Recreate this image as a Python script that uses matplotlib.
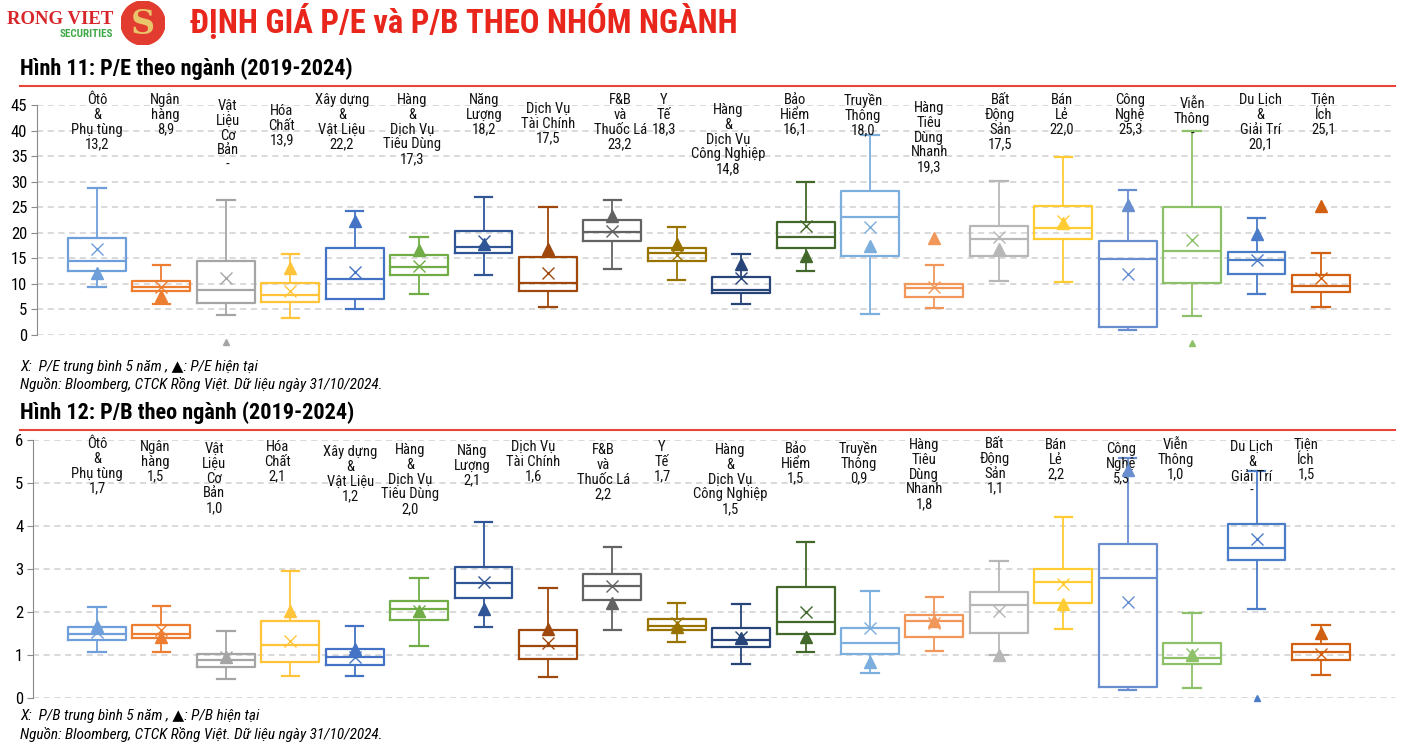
import numpy as np
import matplotlib
matplotlib.use("Agg")
import matplotlib.pyplot as plt
from matplotlib.transforms import blended_transform_factory
from matplotlib.patches import Circle

plt.rcParams['font.family'] = ['Roboto Condensed', 'Archivo Narrow', 'DejaVu Sans']

# Sector names (label text above each box)
sectors = ["Ôtô\n&\nPhụ tùng", "Ngân\nhàng", "Vật\nLiệu\nCơ\nBản", "Hóa\nChất",
           "Xây dựng\n&\nVật Liệu", "Hàng\n&\nDịch Vụ\nTiêu Dùng", "Năng\nLượng",
           "Dịch Vụ\nTài Chính", "F&B\nvà\nThuốc Lá", "Y\nTế",
           "Hàng\n&\nDịch Vụ\nCông Nghiệp", "Bảo\nHiểm", "Truyền\nThông",
           "Hàng\nTiêu\nDùng\nNhanh", "Bất\nĐộng\nSản", "Bán\nLẻ", "Công\nNghệ",
           "Viễn\nThông", "Du Lịch\n&\nGiải Trí", "Tiện\nÍch"]

colors = ['#6F9FDB', '#ED7D31', '#A5A5A5', '#FFC43A', '#4472C4', '#70AD47', '#2F5597',
          '#9E480E', '#636363', '#997300', '#264478', '#43682B', '#7CAFDD', '#F1975A',
          '#B7B7B7', '#FFCD33', '#698ED0', '#8CC168', '#4A7CC8', '#D26012']

# P/E 2019-2024 box stats
pe_low  = [9.4, 6.1, 3.9, 3.4, 5.1, 8.0, 11.7, 5.5, 13.0, 10.8, 6.0, 12.5, 4.1, 5.3, 10.6, 10.4, 1.0, 3.8, 8.0, 5.5]
pe_q1   = [12.5, 8.6, 6.2, 6.4, 7.1, 11.7, 16.1, 8.6, 18.3, 14.4, 8.2, 17.0, 15.4, 7.4, 15.4, 18.7, 1.6, 10.2, 11.9, 8.5]
pe_med  = [14.4, 9.3, 8.9, 7.9, 10.9, 13.3, 17.3, 10.2, 20.2, 16.0, 8.8, 19.1, 23.0, 9.1, 18.8, 20.9, 14.9, 16.4, 14.7, 9.5]
pe_q3   = [18.9, 10.6, 14.4, 10.2, 17.1, 15.7, 20.3, 15.2, 22.5, 17.1, 11.3, 22.2, 28.1, 9.9, 21.4, 25.3, 18.4, 25.0, 16.3, 11.7]
pe_high = [28.7, 13.6, 26.5, 15.8, 24.2, 19.2, 27.0, 25.0, 26.5, 21.2, 15.8, 30.0, 39.2, 13.6, 30.2, 34.9, 28.4, 40.0, 22.9, 16.0]
pe_mean = [16.9, 9.4, 11.1, 8.6, 12.3, 13.5, 18.4, 12.1, 20.3, 15.7, 11.2, 21.3, 21.1, 9.3, 19.1, 22.4, 12.0, 18.6, 14.6, 11.2]
pe_now  = [12.1, 7.6, -1.4, 13.1, 22.3, 16.7, 17.8, 16.9, 23.2, 17.8, 13.9, 15.4, 17.5, 19.0, 16.9, 21.9, 25.5, -1.6, 19.8, 25.3]
pe_now_text = ["13,2", "8,9", "-", "13,9", "22,2", "17,3", "18,2", "17,5", "23,2", "18,3",
               "14,8", "16,1", "18,0", "19,3", "17,5", "22,0", "25,3", "-", "20,1", "25,1"]

# P/B 2019-2024 box stats
pb_low  = [1.08, 1.06, 0.44, 0.52, 0.52, 1.20, 1.66, 0.50, 1.57, 1.31, 0.78, 1.07, 0.59, 1.10, 0.99, 1.60, 0.18, 0.24, 2.06, 0.54]
pb_q1   = [1.35, 1.40, 0.71, 0.84, 0.77, 1.81, 2.32, 0.91, 2.27, 1.57, 1.18, 1.49, 1.02, 1.42, 1.52, 2.20, 0.25, 0.79, 3.20, 0.88]
pb_med  = [1.50, 1.50, 0.88, 1.23, 0.96, 2.06, 2.67, 1.22, 2.60, 1.68, 1.34, 1.76, 1.28, 1.80, 2.16, 2.70, 2.79, 0.94, 3.50, 1.06]
pb_q3   = [1.66, 1.70, 1.03, 1.78, 1.15, 2.25, 3.04, 1.57, 2.88, 1.84, 1.62, 2.57, 1.62, 1.93, 2.46, 3.01, 3.58, 1.29, 4.04, 1.25]
pb_high = [2.12, 2.14, 1.56, 2.95, 1.68, 2.78, 4.09, 2.55, 3.51, 2.22, 2.18, 3.62, 2.49, 2.36, 3.18, 4.22, 5.58, 1.97, 5.29, 1.70]
pb_mean = [1.53, 1.58, 0.95, 1.33, 0.95, 2.03, 2.70, 1.27, 2.60, 1.75, 1.42, 2.00, 1.63, 1.74, 2.03, 2.65, 2.23, 1.03, 3.70, 1.03]
pb_now  = [1.67, 1.41, 0.96, 2.03, 1.13, 2.03, 2.07, 1.60, 2.21, 1.64, 1.40, 1.42, 0.84, 1.80, 0.99, 2.19, 5.31, 0.99, 0.0, 1.51]
pb_now_text = ["1,7", "1,5", "1,0", "2,1", "1,2", "2,0", "2,1", "1,6", "2,2", "1,7",
               "1,5", "1,5", "0,9", "1,8", "1,1", "2,2", "5,3", "1,0", "-", "1,5"]

# label placement (x in category units, top in pixels)
pe_lab_x = [0, 1.06, 2.03, 2.87, 3.80, 4.89, 6.01, 7.00, 8.12, 8.80,
            9.80, 10.84, 11.89, 12.92, 14.02, 14.98, 16.04, 17.0, 18.06, 19.04]
pe_lab_top = [93, 93, 99, 104, 93, 93, 93, 102, 93, 93, 103, 93, 93, 101, 93, 93, 93, 97, 93, 93]
pb_lab_x = [0, 0.90, 1.82, 2.80, 3.93, 4.86, 5.82, 6.77, 7.86, 8.77,
            9.83, 10.85, 11.82, 12.84, 13.94, 14.89, 15.90, 16.75, 17.93, 18.77]
pb_lab_top = [437, 440, 442, 440, 445, 443, 444, 440, 443, 440, 443, 442, 441, 438, 437, 438, 442, 438, 440, 438]

W, H = 1416, 750
fig = plt.figure(figsize=(W / 100, H / 100), dpi=100)
fig.patch.set_facecolor('white')


def draw_panel(ax, low, q1, med, q3, high, mean, now, now_text, lab_x, lab_top, ylim, step, xleft):
    n = len(low)
    pos = np.arange(n)
    stats = [dict(whislo=low[i], q1=q1[i], med=med[i], q3=q3[i], whishi=high[i], mean=mean[i])
             for i in range(n)]
    art = ax.bxp(stats, positions=pos, widths=0.9, capwidths=0.27, showmeans=True,
                 showfliers=False, patch_artist=False, zorder=3)
    for i, c in enumerate(colors):
        art['boxes'][i].set(color=c, lw=1.6)
        art['medians'][i].set(color=c, lw=1.6)
        for k in (2 * i, 2 * i + 1):
            art['whiskers'][k].set(color=c, lw=1.3)
            art['caps'][k].set(color=c, lw=1.6)
        art['means'][i].set(marker='x', markeredgecolor=c, markersize=9, markeredgewidth=1.0)
    for i, c in enumerate(colors):
        small = now_text[i] == "-"
        ax.plot(pos[i], now[i], marker='^', color=c, markersize=4 if small else 9,
                ls='none', clip_on=False, zorder=4)
    ax.set_ylim(*ylim)
    ax.set_xlim(xleft, n - 1 + 1.15)
    ax.set_yticks(np.arange(ylim[0], ylim[1] + step / 2, step))
    ax.set_xticks([])
    ax.yaxis.grid(True, ls=(0, (4, 3)), color='#cfcfcf', lw=1.1)
    ax.set_axisbelow(True)
    for s in ('top', 'right', 'bottom'):
        ax.spines[s].set_visible(False)
    ax.spines['left'].set_color('#8a8a8a')
    ax.tick_params(axis='y', length=4, color='#8a8a8a', labelsize=12, pad=3)
    tr = blended_transform_factory(ax.transData, fig.transFigure)
    for i in range(n):
        ax.text(lab_x[i], 1 - lab_top[i] / H, sectors[i] + "\n" + now_text[i], transform=tr,
                ha='center', va='top', fontsize=10.5, linespacing=1.07, color='#111111')


ax1 = fig.add_axes([37 / W, 1 - 335 / H, (1395 - 37) / W, 230 / H])
draw_panel(ax1, pe_low, pe_q1, pe_med, pe_q3, pe_high, pe_mean, pe_now, pe_now_text,
           pe_lab_x, pe_lab_top, (0, 45), 5, -(97 - 37) / 64.4)
ax2 = fig.add_axes([33 / W, 1 - 698 / H, (1395 - 33) / W, 258 / H])
draw_panel(ax2, pb_low, pb_q1, pb_med, pb_q3, pb_high, pb_mean, pb_now, pb_now_text,
           pb_lab_x, pb_lab_top, (0, 6), 1, -(97 - 33) / 64.4)

# header
fig.text(7 / W, 1 - 19 / H, "RONG VIET", color='#D7262B', fontsize=13.5, fontweight='bold',
         family=['Liberation Serif', 'DejaVu Serif'], va='center', ha='left')
fig.text(113 / W, 1 - 34 / H, "SECURITIES", color='#3FA847', fontsize=8, fontweight='bold',
         va='center', ha='right')
lax = fig.add_axes([121 / W, 1 - 45 / H, 44 / W, 44 / H])
lax.set_xlim(-1, 1)
lax.set_ylim(-1, 1)
lax.set_aspect('equal')
lax.axis('off')
lax.add_patch(Circle((0, 0), 1, color='#E23B30'))
lax.text(0, -0.05, "S", color='#E8C46A', fontsize=24, fontweight='bold', ha='center', va='center',
         family=['DejaVu Serif'])
fig.text(190 / W, 1 - 22 / H, "ĐỊNH GIÁ P/E và P/B THEO NHÓM NGÀNH", color='#E8261C',
         fontsize=23.5, fontweight='bold', va='center', ha='left')

for y_title, y_line, title in [(69, 86, "Hình 11: P/E theo ngành (2019-2024)"),
                               (413, 430, "Hình 12: P/B theo ngành (2019-2024)")]:
    fig.text(20 / W, 1 - y_title / H, title, fontsize=16, fontweight='bold', va='center', ha='left')
    fig.add_artist(plt.Line2D([20 / W, 1395 / W], [1 - y_line / H] * 2, color='#E8463A', lw=1.5))

for y_note, kind in [(367, "P/E"), (716, "P/B")]:
    fig.text(20 / W, 1 - y_note / H, f"X:  {kind} trung bình 5 năm , ▲: {kind} hiện tại",
             fontsize=11, style='italic', va='center', ha='left')
    fig.text(20 / W, 1 - (y_note + 18) / H,
             "Nguồn: Bloomberg, CTCK Rồng Việt. Dữ liệu ngày 31/10/2024.",
             fontsize=11, style='italic', va='center', ha='left')

fig.savefig("out.png", dpi=100)
